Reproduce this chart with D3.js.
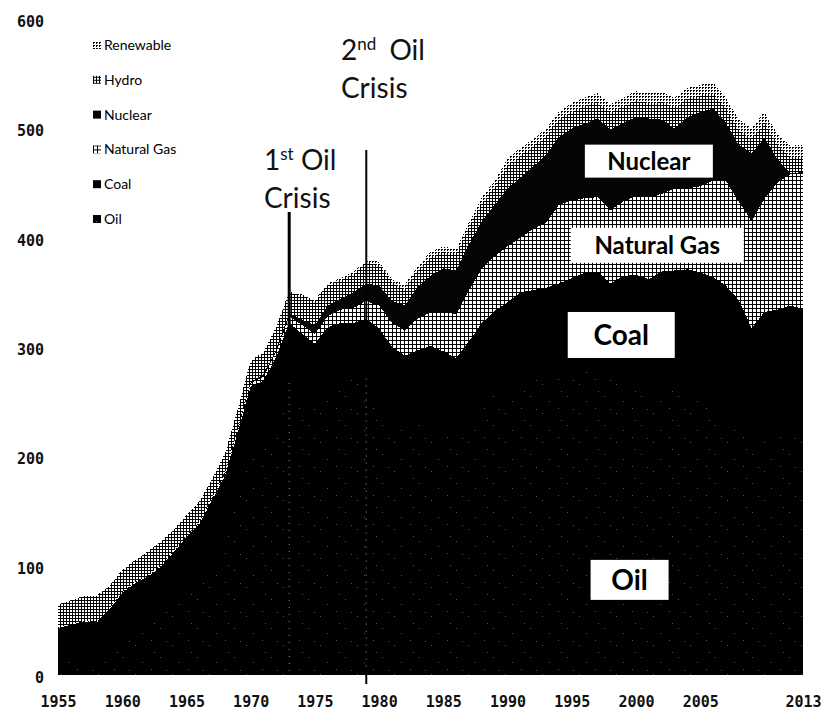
<!DOCTYPE html>
<html>
<head>
<meta charset="utf-8">
<script src="https://cdn.jsdelivr.net/npm/d3@7"></script>
<style>
  body { margin: 0; background: #fff; }
  .tick-label { font-family: "DejaVu Sans Mono", monospace; font-weight: bold; font-size: 15px; fill: #111; }
  .legend-text { font-family: Lato, "Open Sans", sans-serif; font-size: 14px; fill: #000; }
  .note { font-family: Lato, "Open Sans", sans-serif; font-size: 28px; fill: #111; }
  .box-text { font-family: Lato, "Open Sans", sans-serif; font-weight: bold; fill: #000; }
</style>
</head>
<body>
<div id="chart"></div>
<script>
// Primary energy supply by source, 1955 - 2013
var years = d3.range(1955, 2014);

var oil = [12,13,14,16,25,35,40,47,55,66,
  78,88,104,122,159,202,212,236,267,254,
  246,262,267,272,272,255,232,222,229,225,
  220,216,233,246,256,263,270,272,272,273,
  277,280,279,271,273,268,259,263,260,256,
  253,248,235,225,210,215,222,221,213];
var coal = [31,33,35,32,35,40,44,43,44,46,
  48,50,56,60,63,62,57,55,55,58,
  57,56,55,50,54,62,68,70,68,76,
  76,74,72,76,77,78,80,80,82,85,
  86,88,90,87,92,98,103,106,110,115,
  115,116,121,118,107,117,112,117,122];
var gas = [0.3,0.3,0.4,0.5,0.5,1,1,1,1,1,
  1,2,2,3,3,3,4,5,6,8,
  9,10,12,14,16,21,22,23,29,31,
  36,40,47,50,50,51,50,56,60,72,
  71,68,68,67,68,72,75,71,75,74,
  79,88,96,90,98,104,116,120,123];
var nuclear = [0,0,0,0,0,0,0,0,0,0,
  0,0.1,0.1,0.2,1,1,2,2,3,5,
  8,10,10,14,16,18,20,23,29,33,
  40,40,42,43,47,53,55,57,62,62,
  66,68,72,74,72,72,72,68,55,65,
  68,66,53,52,62,55,22,1,2];
var hydro = [21,22,23,24,21,20,20,22,22,20,
  19,18,17,17,17,19,20,20,19,22,
  22,18,17,17,19,19,17,15,15,17,
  15,14,15,16,16,20,20,18,17,16,
  15,16,15,15,15,15,14,16,19,17,
  15,14,13,13,13,14,13,14,13];
var renewable = [0,0,0,0,0,0,0,0,0,0,
  0,0.5,0.5,0.5,0.5,0.5,0.5,0.5,1,1,
  1,2,2,2,2,3,3,4,4,5,
  5,5,5,6,6,7,7,7,7,7,
  8,8,8,8,8,9,9,9,9,10,
  10,10,10,10,10,10,10,11,12];

var keys = ["oil", "coal", "gas", "nuclear", "hydro", "renewable"];
var legendNames = ["Renewable", "Hydro", "Nuclear", "Natural Gas", "Coal", "Oil"];
var legendKeys = ["renewable", "hydro", "nuclear", "gas", "coal", "oil"];
var xTicks = [1955, 1960, 1965, 1970, 1975, 1980, 1985, 1990, 1995, 2000, 2005, 2013];
var yTicks = [0, 100, 200, 300, 400, 500, 600];
var crisisYears = [1973, 1979];

// build table for the stack
var table = years.map(function(yr, i) {
  return { year: yr, oil: oil[i], coal: coal[i], gas: gas[i],
    nuclear: nuclear[i], hydro: hydro[i], renewable: renewable[i] };
});

var width = 822;
var height = 716;

var svg = d3.select("#chart")
  .append("svg")
  .attr("width", width)
  .attr("height", height);

svg.append("rect").attr("width", width).attr("height", height).attr("fill", "#fff");

// Patterns (black & white print look)
var defs = svg.append("defs");

// oil: black with a few faint specks
var pOil = defs.append("pattern").attr("id", "p-oil")
  .attr("patternUnits", "userSpaceOnUse").attr("width", 37).attr("height", 29);
pOil.append("rect").attr("width", 37).attr("height", 29).attr("fill", "#000");
[[3,2],[24,7],[12,19],[31,24],[6,14],[18,3]].forEach(function(p) {
  pOil.append("rect").attr("x", p[0]).attr("y", p[1]).attr("width", 1).attr("height", 1).attr("fill", "#555");
});

// gas: light grid
var pGas = defs.append("pattern").attr("id", "p-gas")
  .attr("patternUnits", "userSpaceOnUse").attr("width", 4).attr("height", 4);
pGas.append("rect").attr("width", 4).attr("height", 4).attr("fill", "#000");
pGas.append("rect").attr("x", 1).attr("y", 1).attr("width", 3).attr("height", 3).attr("fill", "#fff");

// hydro: denser grid
var pHydro = defs.append("pattern").attr("id", "p-hydro")
  .attr("patternUnits", "userSpaceOnUse").attr("width", 3).attr("height", 3);
pHydro.append("rect").attr("width", 3).attr("height", 3).attr("fill", "#000");
pHydro.append("rect").attr("x", 1).attr("y", 1).attr("width", 2).attr("height", 2).attr("fill", "#fff");

// renewable: dotted grid
var pRen = defs.append("pattern").attr("id", "p-ren")
  .attr("patternUnits", "userSpaceOnUse").attr("width", 3).attr("height", 3);
pRen.append("rect").attr("width", 3).attr("height", 3).attr("fill", "#fff");
pRen.append("rect").attr("width", 2).attr("height", 1).attr("fill", "#000");
pRen.append("rect").attr("width", 1).attr("height", 2).attr("fill", "#000");

var fills = {
  oil: "url(#p-oil)",
  coal: "#000",
  gas: "url(#p-gas)",
  nuclear: "#050505",
  hydro: "url(#p-hydro)",
  renewable: "url(#p-ren)"
};

// Scales
var xScale = d3.scaleLinear().domain([1955, 2013]).range([58, 803]);
var yScale = d3.scaleLinear().domain([0, 600]).range([675, 19]);

var series = d3.stack().keys(keys)(table);

var area = d3.area()
  .x(function(d) { return xScale(d.data.year); })
  .y0(function(d) { return yScale(d[0]); })
  .y1(function(d) { return yScale(d[1]); });

svg.append("g")
  .attr("shape-rendering", "crispEdges")
  .selectAll("path")
  .data(series)
  .enter()
  .append("path")
  .attr("d", area)
  .attr("fill", function(d) { return fills[d.key]; });

// Axes: labels only, no lines
var xAxis = d3.axisBottom(xScale).tickValues(xTicks).tickFormat(d3.format("d")).tickSize(0).tickPadding(21);
var gx = svg.append("g").attr("transform", "translate(0,675)").call(xAxis);
gx.select(".domain").remove();
gx.selectAll("text").attr("class", "tick-label").attr("font-size", null).attr("font-family", null);

var yAxis = d3.axisLeft(yScale).tickValues(yTicks).tickSize(0).tickPadding(0);
var gy = svg.append("g").attr("transform", "translate(44,0)").call(yAxis);
gy.select(".domain").remove();
gy.selectAll("text").attr("class", "tick-label").attr("font-size", null).attr("font-family", null)
  .attr("dy", "0.5em");

// Oil crisis lines
var coalTop = function(yr) {
  var i = years.indexOf(yr);
  return oil[i] + coal[i];
};
var lineTops = [212, 150];
crisisYears.forEach(function(yr, k) {
  svg.append("line")
    .attr("x1", xScale(yr)).attr("x2", xScale(yr))
    .attr("y1", lineTops[k]).attr("y2", k === 1 ? 684 : 675)
    .attr("stroke", "#000").attr("stroke-width", k === 0 ? 3 : 2);
  svg.append("line")
    .attr("x1", xScale(yr)).attr("x2", xScale(yr))
    .attr("y1", yScale(coalTop(yr)) + 60).attr("y2", 672)
    .attr("stroke", "#999").attr("stroke-width", 1)
    .attr("stroke-dasharray", "1,6");
});

// Crisis annotations
function crisisNote(x, y1, num, sup, gap) {
  var t = svg.append("text").attr("class", "note").attr("x", x).attr("y", y1);
  t.append("tspan").text(num);
  t.append("tspan").attr("font-size", "17px").attr("dy", "-10").text(sup);
  t.append("tspan").attr("dy", "10").attr("dx", gap).text(" Oil");
  svg.append("text").attr("class", "note").attr("x", x).attr("y", y1 + 38).text("Crisis");
}
crisisNote(264, 170, "1", "st", 0);
crisisNote(341, 60, "2", "nd", 6);

// Boxed labels inside the areas
var boxes = [
  { text: "Nuclear", year: 2001.0, value: 470, w: 128, h: 33, size: 24 },
  { text: "Natural Gas", year: 2001.65, value: 393, w: 173, h: 35, size: 24 },
  { text: "Coal", year: 1998.85, value: 311, w: 107, h: 46, size: 28 },
  { text: "Oil", year: 1999.5, value: 87, w: 78, h: 40, size: 28 }
];
boxes.forEach(function(b) {
  var cx = xScale(b.year), cy = yScale(b.value);
  svg.append("rect")
    .attr("x", cx - b.w / 2).attr("y", cy - b.h / 2)
    .attr("width", b.w).attr("height", b.h)
    .attr("fill", "#fff");
  svg.append("text")
    .attr("class", "box-text")
    .attr("x", cx).attr("y", cy)
    .attr("dy", "0.36em")
    .attr("text-anchor", "middle")
    .attr("font-size", b.size + "px")
    .text(b.text);
});

// Legend
var legend = svg.append("g").attr("transform", "translate(93,45)");
legendNames.forEach(function(name, i) {
  var g = legend.append("g").attr("transform", "translate(0," + (i * 34.8) + ")");
  g.append("rect").attr("x", 0).attr("y", -4).attr("width", 8).attr("height", 8)
    .attr("fill", fills[legendKeys[i]]);
  g.append("text").attr("class", "legend-text").attr("x", 11).attr("y", 0)
    .attr("dy", "0.35em").text(name);
});
</script>
</body>
</html>
